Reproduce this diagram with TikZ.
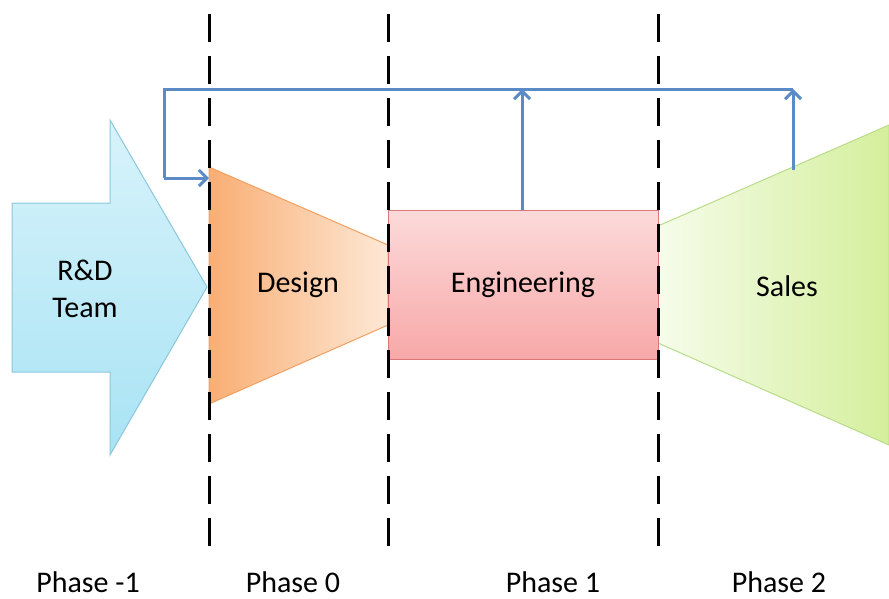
\documentclass[tikz,border=0pt]{standalone}
\usepackage{fontspec}
\setmainfont{Carlito}
\usetikzlibrary{arrows.meta}
\definecolor{flowblue}{HTML}{5B8BC6}
\definecolor{cyanA}{HTML}{D8F3FB}
\definecolor{cyanB}{HTML}{A8E3F4}
\definecolor{cyanE}{HTML}{8CC6DA}
\definecolor{orA}{HTML}{F9AE74}
\definecolor{orB}{HTML}{FDE8D6}
\definecolor{orE}{HTML}{F0A060}
\definecolor{pkA}{HTML}{FCDADA}
\definecolor{pkB}{HTML}{F8A8A8}
\definecolor{pkE}{HTML}{D87878}
\definecolor{grA}{HTML}{F6FCEA}
\definecolor{grB}{HTML}{D4EF9C}
\definecolor{grE}{HTML}{B8DC88}
\tikzset{
  phaseline/.style={line width=3pt, dash pattern=on 28pt off 14pt, black},
  flow/.style={line width=3pt, flowblue},
  flowarrow/.style={flow, -{Straight Barb[length=8pt,width=16pt,line width=3pt]}},
  lbl/.style={font=\fontsize{30}{37}\selectfont, align=center, inner sep=0pt},
  phaselbl/.style={font=\fontsize{30}{37}\selectfont, inner sep=0pt, text depth=0pt, anchor=base},
}
\begin{document}
\begin{tikzpicture}[x=1pt,y=-1pt]
\useasboundingbox (0,0) rectangle (889,598);
% R&D arrow
\shade[top color=cyanA, bottom color=cyanB, draw=cyanE, line width=1pt]
  (12,203) -- (110,203) -- (110,120) -- (207,287) -- (110,455) -- (110,372) -- (12,372) -- cycle;
% Design trapezoid
\shade[left color=orA, right color=orB, draw=orE, line width=1pt]
  (209,167) -- (388,245) -- (388,325) -- (209,404) -- cycle;
% Sales
\shade[left color=grA, right color=grB, draw=grE, line width=1pt]
  (658,226) -- (889,125) -- (889,445) -- (658,343) -- cycle;
% Engineering
\shade[top color=pkA, bottom color=pkB, draw=pkE, line width=1pt]
  (388,210) rectangle (658,359);
% phase lines
\coordinate (d1t) at (209,14); \coordinate (d1b) at (209,555);
\coordinate (d2t) at (388,14); \coordinate (d2b) at (388,555);
\coordinate (d3t) at (658,14); \coordinate (d3b) at (658,555);
\draw[phaseline] (d1t) -- (d1b);
\draw[phaseline] (d2t) -- (d2b);
\draw[phaseline] (d3t) -- (d3b);
% feedback lines
\coordinate (fl) at (164,89);
\coordinate (fr) at (793,89);
\coordinate (fdown) at (164,178);
\coordinate (fin) at (209,178);
\coordinate (eng) at (522,210);
\coordinate (engtop) at (522,89);
\coordinate (sal) at (793,170);
\draw[flow] (fr) -- (fl) -- (fdown);
\draw[flowarrow] (fdown) -- (fin);
\draw[flowarrow] (eng) -- (engtop);
\draw[flowarrow] (sal) -- (fr);
% labels
\node[lbl] (rd) at (85,289) {R\&D\\Team};
\node[lbl] (design) at (298,285) {Design};
\node[lbl] (engineering) at (523,285) {Engineering};
\node[lbl] (sales) at (787,286) {Sales};
\node[phaselbl] (p1) at (88,592) {Phase -1};
\node[phaselbl] (p0) at (293,592) {Phase 0};
\node[phaselbl] (pp1) at (553,592) {Phase 1};
\node[phaselbl] (pp2) at (779,592) {Phase 2};
\end{tikzpicture}
\end{document}
